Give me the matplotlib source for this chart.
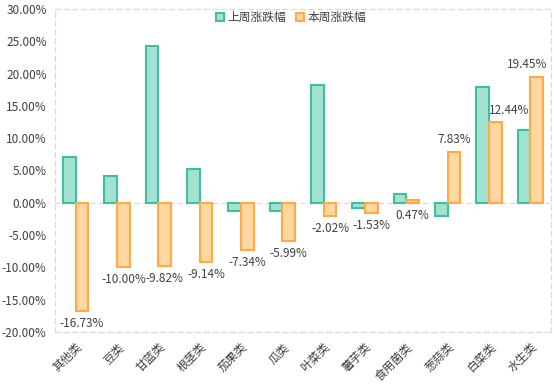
import numpy as np
import matplotlib
matplotlib.use("Agg")
import matplotlib.pyplot as plt
from matplotlib.ticker import FuncFormatter

plt.rcParams['font.family'] = ['Noto Sans CJK SC', 'DejaVu Sans']

categories = ['其他类', '豆类', '甘蓝类', '根茎类', '茄果类', '瓜类',
              '叶菜类', '薯芋类', '食用菌类', '葱蒜类', '白菜类', '水生类']
last_week = [7.1, 4.2, 24.3, 5.3, -1.2, -1.3, 18.3, -0.8, 1.4, -2.0, 18.0, 11.3]
this_week = [-16.73, -10.00, -9.82, -9.14, -7.34, -5.99, -2.02, -1.53, 0.47, 7.83, 12.44, 19.45]
series_names = ['上周涨跌幅', '本周涨跌幅']

green_edge, green_face = '#3EBF9E', '#A3E2D3'
orange_edge, orange_face = '#FFAA45', '#FFD7A1'
text_color = '#404040'
grid_color = '#D9D9D9'

fig = plt.figure(figsize=(5.54, 3.89), dpi=100)
ax = fig.add_axes([0.0993, 0.1465, 0.8953, 0.8304])

x = np.arange(len(categories))
w = 0.31
ax.bar(x - w / 2, last_week, w, color=green_face, edgecolor=green_edge,
       linewidth=1.5, label=series_names[0], zorder=3)
ax.bar(x + w / 2, this_week, w, color=orange_face, edgecolor=orange_edge,
       linewidth=1.5, label=series_names[1], zorder=3)

# value labels for this week's series (a couple nudged sideways to avoid overlap / clipping)
label_nudge = {10: 0.34, 11: -0.23}
for i, (xi, v) in enumerate(zip(x, this_week)):
    lx = xi + w / 2 + label_nudge.get(i, 0)
    if v >= 1:
        ax.text(lx, v + 0.9, f'{v:.2f}%', ha='center', va='bottom',
                fontsize=8.5, color=text_color)
    else:
        ax.text(lx, min(v, 0) - 0.9, f'{v:.2f}%', ha='center', va='top',
                fontsize=8.5, color=text_color)

ax.set_xlim(-0.5, len(categories) - 0.5)
ax.set_ylim(-20, 30)
ax.set_yticks(np.arange(-20, 31, 5))
ax.yaxis.set_major_formatter(FuncFormatter(lambda v, p: f'{v:.2f}%'))
ax.set_xticks(x)
ax.set_xticklabels(categories, rotation=45, ha='right', va='top',
                   rotation_mode='anchor')
ax.tick_params(axis='both', length=0, labelsize=8.5, labelcolor=text_color)
ax.tick_params(axis='x', pad=6)
ax.tick_params(axis='y', pad=6)

ax.axhline(0, color=grid_color, linestyle=(0, (4, 3)), linewidth=0.9, zorder=1)
for s in ax.spines.values():
    s.set_color(grid_color)
    s.set_linestyle((0, (4, 3)))
    s.set_linewidth(0.9)

ax.legend(loc='center', bbox_to_anchor=(0.525, 0.955), bbox_transform=fig.transFigure,
          ncol=2, frameon=False, fontsize=8.5, handlelength=0.7, handleheight=0.7,
          handletextpad=0.3, columnspacing=0.8, labelcolor=text_color)

fig.savefig('out.png', dpi=100)
